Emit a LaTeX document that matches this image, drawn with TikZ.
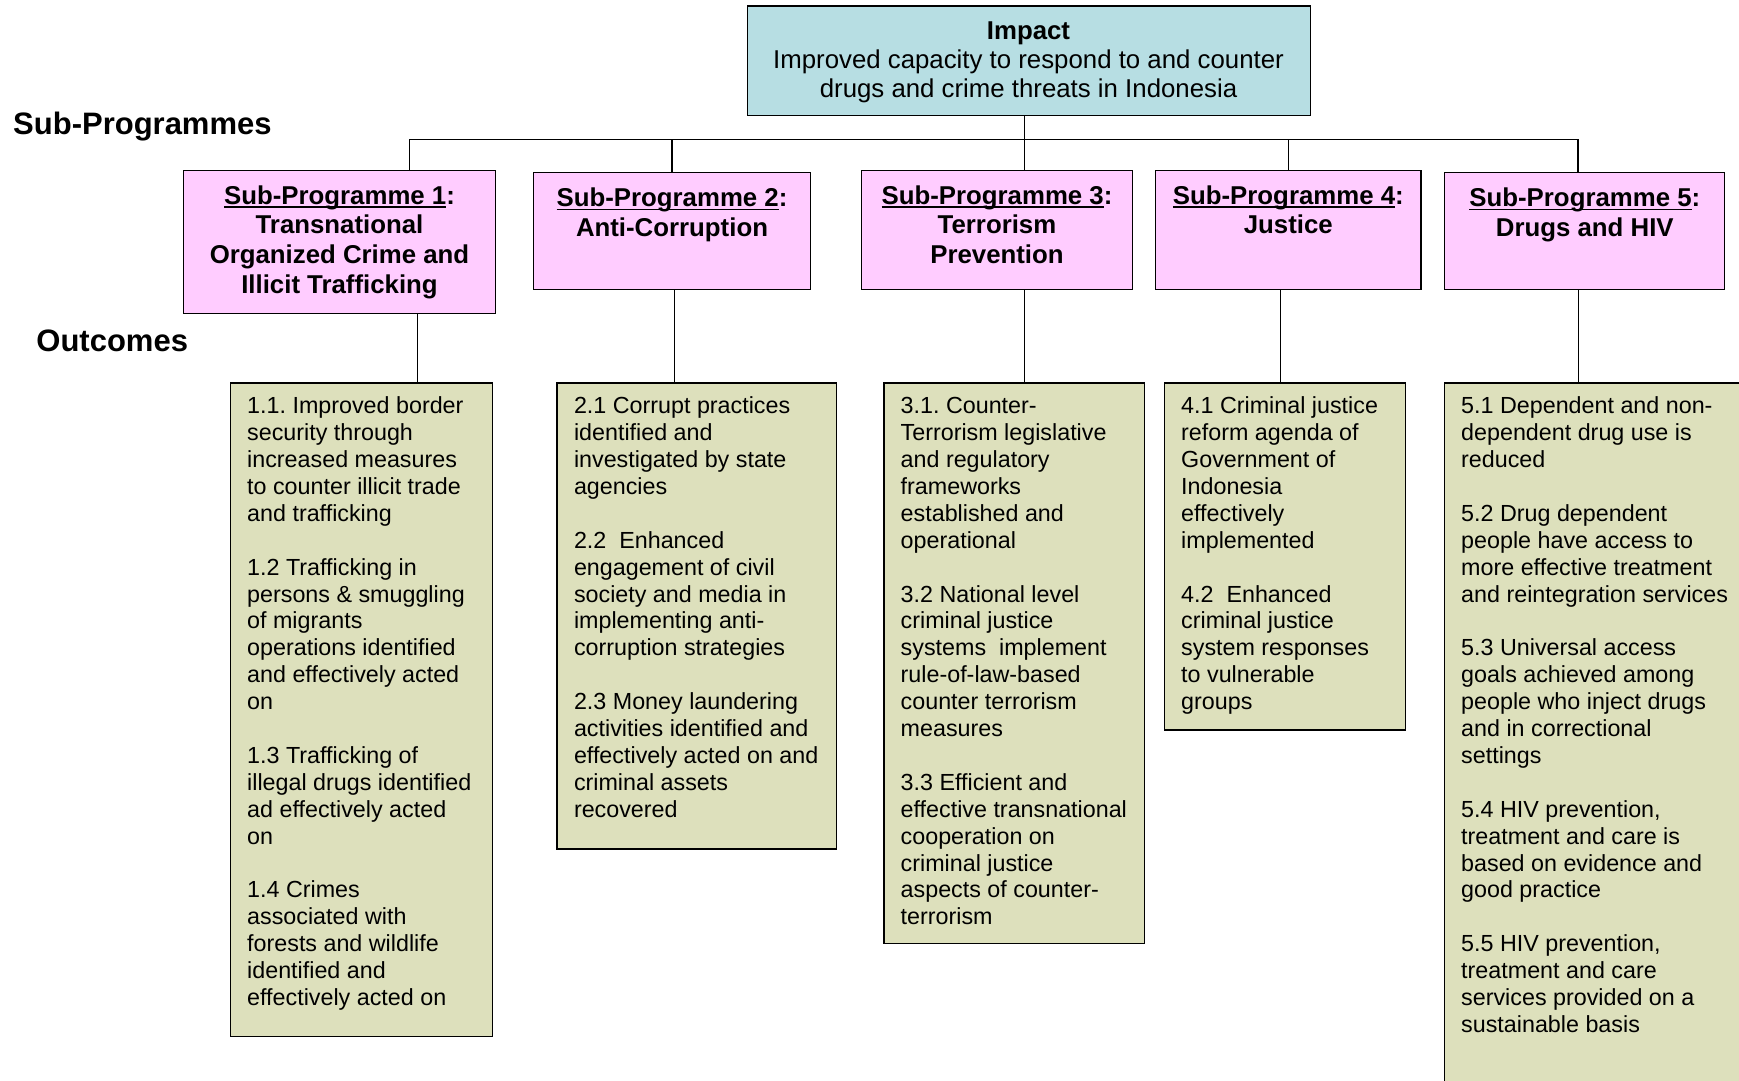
\documentclass[tikz,border=0pt]{standalone}
\usepackage{fontspec}
\setmainfont{Liberation Sans}
\usetikzlibrary{calc}
\frenchspacing

\definecolor{impactfill}{RGB}{183,222,227}
\definecolor{progfill}{RGB}{255,204,255}
\definecolor{outfill}{RGB}{221,224,188}

% underline sitting just below the baseline, like a word-processor underline
\newsavebox\subulbox
\newcommand\subul[1]{\sbox\subulbox{#1}\rlap{\usebox\subulbox}\rule[-3.7pt]{\wd\subulbox}{1.9pt}}
% fixes the height of the first line so the first baseline is known
\newcommand\topstrut{\rule{0pt}{22pt}}

\begin{document}
\begin{tikzpicture}[x=1pt,y=-1pt,
  boxnode/.style={draw=black, line width=1.3pt, inner sep=0pt, outer sep=0pt, anchor=north west},
  headtext/.style={inner sep=0pt, anchor=north, align=center,
    font=\fontsize{25.8pt}{29pt}\selectfont},
  progtext/.style={headtext, font=\fontsize{25.8pt}{29.9pt}\selectfont\bfseries},
  outtext/.style={inner sep=0pt, anchor=north west, align=left,
    font=\fontsize{23.3pt}{26.9pt}\selectfont},
  rowlabel/.style={inner sep=0pt, anchor=base west,
    font=\fontsize{31pt}{34pt}\selectfont\bfseries},
  link/.style={draw=black, line width=1.3pt}]

\useasboundingbox (0,0) rectangle (1739,1080);
\clip (0,0) rectangle (1739,1080);

% ---- boxes ----
\node[boxnode, fill=impactfill, minimum width=563.5pt, minimum height=109.7pt] (impact) at (747.2,6) {};

\node[boxnode, fill=progfill, minimum width=312pt,   minimum height=142.6pt] (sp1) at (183.5,170.7) {};
\node[boxnode, fill=progfill, minimum width=276.4pt, minimum height=116.6pt] (sp2) at (533.8,172.7) {};
\node[boxnode, fill=progfill, minimum width=271.5pt, minimum height=118.6pt] (sp3) at (861.2,170.7) {};
\node[boxnode, fill=progfill, minimum width=265.5pt, minimum height=118.6pt] (sp4) at (1155.5,170.7) {};
\node[boxnode, fill=progfill, minimum width=280pt,   minimum height=116.6pt] (sp5) at (1444.8,172.7) {};

\node[boxnode, fill=outfill, minimum width=262.4pt, minimum height=653.5pt] (out1) at (230.3,383) {};
\node[boxnode, fill=outfill, minimum width=279.7pt, minimum height=466pt]   (out2) at (557.1,383) {};
\node[boxnode, fill=outfill, minimum width=260.5pt, minimum height=560.2pt] (out3) at (883.9,383) {};
\node[boxnode, fill=outfill, minimum width=241.2pt, minimum height=347pt]   (out4) at (1164.3,383) {};
\node[boxnode, fill=outfill, minimum width=315.2pt, minimum height=717pt]   (out5) at (1444.8,383) {};

% ---- row labels ----
\node[rowlabel] (lblprog) at (13,134.5) {Sub-Programmes};
\node[rowlabel] (lblout) at (36.2,351) {Outcomes};

% ---- connectors ----
\coordinate (hub) at (1024.6,139.3);
\coordinate (b1) at (409.5,139.3);
\coordinate (b2) at (672,139.3);
\coordinate (b4) at (1288.5,139.3);
\coordinate (b5) at (1577.9,139.3);
\coordinate (d1) at (417.3,0);
\coordinate (d2) at (674.2,0);
\coordinate (d3) at (1024.6,0);
\coordinate (d4) at (1280.8,0);
\coordinate (d5) at (1578.4,0);

\draw[link] (hub |- impact.south) -- (hub);
\draw[link] (b1) -- (b5);
\draw[link] (b1) -- (b1 |- sp1.north);
\draw[link] (b2) -- (b2 |- sp2.north);
\draw[link] (hub) -- (hub |- sp3.north);
\draw[link] (b4) -- (b4 |- sp4.north);
\draw[link] (b5) -- (b5 |- sp5.north);

\draw[link] (d1 |- sp1.south) -- (d1 |- out1.north);
\draw[link] (d2 |- sp2.south) -- (d2 |- out2.north);
\draw[link] (d3 |- sp3.south) -- (d3 |- out3.north);
\draw[link] (d4 |- sp4.south) -- (d4 |- out4.north);
\draw[link] (d5 |- sp5.south) -- (d5 |- out5.north);

% ---- impact text ----
\node[headtext] (impacttext) at (1028.5,17) {\topstrut\textbf{Impact}\\
  Improved capacity to respond to and counter\\
  drugs and crime threats in Indonesia};

% ---- sub-programme titles ----
\node[progtext] (sp1text) at (339.5,181.8)
  {\topstrut\subul{Sub-Programme 1}:\\Transnational\\Organized Crime and\\Illicit Trafficking};
\node[progtext] (sp2text) at (672,184.5)
  {\topstrut\subul{Sub-Programme 2}:\\Anti-Corruption};
\node[progtext] (sp3text) at (997,181.8)
  {\topstrut\subul{Sub-Programme 3}:\\Terrorism\\Prevention};
\node[progtext] (sp4text) at (1288.3,181.8)
  {\topstrut\subul{Sub-Programme 4}:\\Justice};
\node[progtext] (sp5text) at (1584.8,184.5)
  {\topstrut\subul{Sub-Programme 5}:\\Drugs and HIV};

% ---- outcome texts ----
\node[outtext] (out1text) at (247,391.5) {\topstrut 1.1. Improved border\\
  security through\\increased measures\\to counter illicit trade\\and trafficking\\[26.9pt]
  1.2 Trafficking in\\persons \& smuggling\\of migrants\\operations identified\\and effectively acted\\on\\[26.9pt]
  1.3 Trafficking of\\illegal drugs identified\\ad effectively acted\\on\\[26.9pt]
  1.4 Crimes\\associated with\\forests and wildlife\\identified and\\effectively acted on};

\node[outtext] (out2text) at (573.8,391.5) {\topstrut 2.1 Corrupt practices\\
  identified and\\investigated by state\\agencies\\[26.9pt]
  2.2~ Enhanced\\engagement of civil\\society and media in\\implementing anti-\\corruption strategies\\[26.9pt]
  2.3 Money laundering\\activities identified and\\effectively acted on and\\criminal assets\\recovered};

\node[outtext] (out3text) at (900.5,391.5) {\topstrut 3.1. Counter-\\
  Terrorism legislative\\and regulatory\\frameworks\\established and\\operational\\[26.9pt]
  3.2 National level\\criminal justice\\systems~ implement\\rule-of-law-based\\counter terrorism\\measures\\[26.9pt]
  3.3 Efficient and\\effective transnational\\cooperation on\\criminal justice\\aspects of counter-\\terrorism};

\node[outtext] (out4text) at (1181,391.5) {\topstrut 4.1 Criminal justice\\
  reform agenda of\\Government of\\Indonesia\\effectively\\implemented\\[26.9pt]
  4.2~ Enhanced\\criminal justice\\system responses\\to vulnerable\\groups};

\node[outtext] (out5text) at (1461,391.5) {\topstrut 5.1 Dependent and non-\\
  dependent drug use is\\reduced\\[26.9pt]
  5.2 Drug dependent\\people have access to\\more effective treatment\\and reintegration services\\[26.9pt]
  5.3 Universal access\\goals achieved among\\people who inject drugs\\and in correctional\\settings\\[26.9pt]
  5.4 HIV prevention,\\treatment and care is\\based on evidence and\\good practice\\[26.9pt]
  5.5 HIV prevention,\\treatment and care\\services provided on a\\sustainable basis};

\end{tikzpicture}
\end{document}
